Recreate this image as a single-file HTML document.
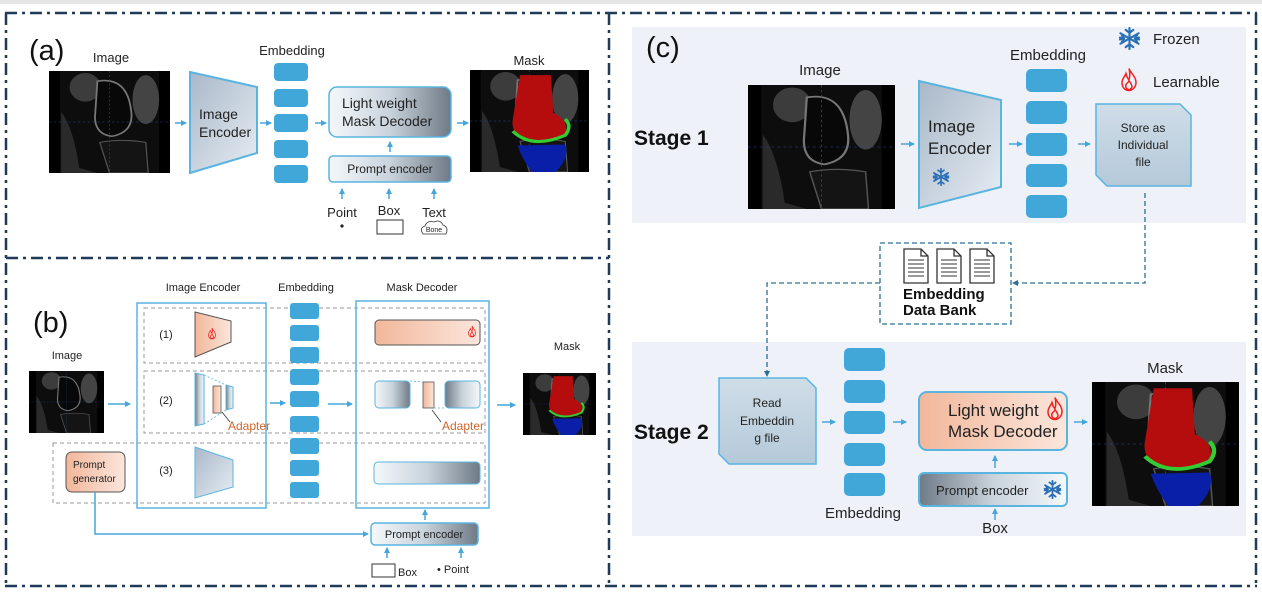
<!DOCTYPE html>
<html><head><meta charset="utf-8"><style>
html,body{margin:0;padding:0;background:#fff;}
svg{display:block;font-family:"Liberation Sans",sans-serif;}
</style></head><body>
<svg width="1262" height="596" viewBox="0 0 1262 596" xmlns="http://www.w3.org/2000/svg">
<defs>
<linearGradient id="gDec" x1="0" x2="1" y1="0" y2="0"><stop offset="0" stop-color="#f4f8fb"/><stop offset="0.5" stop-color="#c9d3dc"/><stop offset="1" stop-color="#6e7a86"/></linearGradient>
<linearGradient id="gDecR" x1="0" x2="1" y1="0" y2="0"><stop offset="0" stop-color="#6e7a86"/><stop offset="0.5" stop-color="#c9d3dc"/><stop offset="1" stop-color="#f4f8fb"/></linearGradient>
<linearGradient id="gEnc" x1="0" x2="1" y1="0" y2="1"><stop offset="0" stop-color="#a9b8c8"/><stop offset="1" stop-color="#e6edf4"/></linearGradient>
<linearGradient id="gOr" x1="0" x2="1" y1="0" y2="0"><stop offset="0" stop-color="#f2b79a"/><stop offset="1" stop-color="#fbe6dc"/></linearGradient>
<linearGradient id="gFile" x1="0" x2="0" y1="0" y2="1"><stop offset="0" stop-color="#cfdde8"/><stop offset="1" stop-color="#b5c9d9"/></linearGradient>
<marker id="ar" markerWidth="6" markerHeight="6" refX="5" refY="3" orient="auto" markerUnits="userSpaceOnUse"><path d="M0,0 L6,3 L0,6 Z" fill="#45a6dc"/></marker>
<marker id="ard" markerWidth="6" markerHeight="6" refX="5" refY="3" orient="auto" markerUnits="userSpaceOnUse"><path d="M0,0 L6,3 L0,6 Z" fill="#2e6f96"/></marker>
<symbol id="knee" viewBox="0 0 100 100" preserveAspectRatio="none">
<rect width="100" height="100" fill="#000"/>
<rect x="9" width="82" height="100" fill="#0d0d0d"/>
<ellipse cx="30" cy="16" rx="13" ry="14" fill="#3c3c3c"/>
<ellipse cx="80" cy="28" rx="11" ry="24" fill="#444"/>
<path d="M10,40 Q20,55 25,95 L40,100 L10,100Z" fill="#2a2a2a"/>
<path d="M40,10 Q65,5 68,40 Q70,60 52,64 Q38,62 38,45Z" fill="#080808" stroke="#777" stroke-width="1.5"/>
<path d="M42,70 Q60,66 80,70 L82,100 L50,100Z" fill="#141414" stroke="#555" stroke-width="1"/>
<line x1="50" y1="0" x2="50" y2="100" stroke="#3344aa" stroke-width="0.5" stroke-dasharray="2 2"/>
<line x1="0" y1="50" x2="100" y2="50" stroke="#3344aa" stroke-width="0.5" stroke-dasharray="2 2"/>
</symbol>
<symbol id="mask" viewBox="0 0 100 100" preserveAspectRatio="none">
<use href="#knee" width="100" height="100"/>
<path d="M42,5 L68,5 L70,42 Q84,50 80,62 Q66,74 46,68 Q34,62 36,48Z" fill="#b50d0d"/>
<path d="M36,60 Q52,78 80,64 Q86,55 80,48" fill="none" stroke="#33cc33" stroke-width="3"/>
<path d="M40,74 L80,73 Q84,86 72,100 L52,100 Q44,88 40,74Z" fill="#0a1fa8"/>
</symbol>
<symbol id="flame" viewBox="0 0 20 24"><path d="M10,1 C12,6 17,9 17,15 C17,20 13,23 10,23 C6,23 3,20 3,15 C3,11 6,9 7,6 C8,9 8,11 10,12 C11,9 11,5 10,1Z M10,22 C8,22 6,20 7,17 C8,15 10,15 10,13 C12,16 13,18 13,19 C13,21 11,22 10,22Z" fill="none" stroke="#e22" stroke-width="1.5"/></symbol>
<symbol id="snow" viewBox="0 0 24 24"><g stroke="#2a6fb5" stroke-width="2.2" fill="none" stroke-linecap="round"><line x1="12" y1="1" x2="12" y2="23"/><line x1="2.5" y1="6.5" x2="21.5" y2="17.5"/><line x1="2.5" y1="17.5" x2="21.5" y2="6.5"/><path d="M8,3 L12,6 L16,3 M8,21 L12,18 L16,21 M2,11 L6,12 L4,8 M22,13 L18,12 L20,16 M2,13 L6,12 L4,16 M22,11 L18,12 L20,8"/></g></symbol>
<symbol id="doc" viewBox="0 0 26 36"><path d="M1,1 L18,1 L25,8 L25,35 L1,35Z M18,1 L18,8 L25,8" fill="#fff" stroke="#333" stroke-width="1.3"/><g stroke="#333" stroke-width="1"><line x1="5" y1="12" x2="21" y2="12"/><line x1="5" y1="16" x2="21" y2="16"/><line x1="5" y1="20" x2="21" y2="20"/><line x1="5" y1="24" x2="21" y2="24"/><line x1="5" y1="28" x2="21" y2="28"/></g></symbol>
</defs>

<rect x="0" y="0" width="1262" height="4" fill="#e6e6e6"/>
<g stroke="#1f3b57" stroke-width="2.5" fill="none" stroke-dasharray="12 5 3 5">
<line x1="5" y1="13" x2="1257" y2="13"/>
<line x1="5" y1="586" x2="1257" y2="586"/>
<line x1="6" y1="13" x2="6" y2="586"/>
<line x1="609" y1="13" x2="609" y2="586"/>
<line x1="1256" y1="13" x2="1256" y2="586"/>
<line x1="6" y1="258" x2="609" y2="258"/>
</g>

<!-- ===== Panel (a) ===== -->
<text x="29" y="60" font-size="29" fill="#111">(a)</text>
<text x="111" y="62" font-size="13" text-anchor="middle" fill="#222">Image</text>
<use href="#knee" x="49" y="71" width="121" height="102"/>
<line x1="175" y1="123" x2="186" y2="123" stroke="#45a6dc" stroke-width="1.5" marker-end="url(#ar)"/>
<path d="M190,72 L257,87 L257,153 L190,173Z" fill="url(#gEnc)" stroke="#5ab4e0" stroke-width="2"/>
<text x="199" y="119" font-size="14" fill="#222">Image</text>
<text x="199" y="137" font-size="14" fill="#222">Encoder</text>
<line x1="260" y1="123" x2="271" y2="123" stroke="#45a6dc" stroke-width="1.5" marker-end="url(#ar)"/>
<text x="292" y="55" font-size="13" text-anchor="middle" fill="#222">Embedding</text>
<g fill="#41a7d8"><rect x="274" y="63" width="34" height="18" rx="4"/><rect x="274" y="89" width="34" height="18" rx="4"/><rect x="274" y="114" width="34" height="18" rx="4"/><rect x="274" y="140" width="34" height="18" rx="4"/><rect x="274" y="165" width="34" height="18" rx="4"/></g>
<line x1="315" y1="123" x2="326" y2="123" stroke="#45a6dc" stroke-width="1.5" marker-end="url(#ar)"/>
<rect x="329" y="87" width="122" height="50" rx="8" fill="url(#gDec)" stroke="#5ab4e0" stroke-width="1.5"/>
<text x="342" y="108" font-size="14" fill="#222">Light weight</text>
<text x="342" y="126" font-size="14" fill="#222">Mask Decoder</text>
<line x1="390" y1="152" x2="390" y2="142" stroke="#45a6dc" stroke-width="1.5" marker-end="url(#ar)"/>
<rect x="329" y="156" width="122" height="26" rx="4" fill="url(#gDec)" stroke="#5ab4e0" stroke-width="1.5"/>
<text x="390" y="173" font-size="12" text-anchor="middle" fill="#222">Prompt encoder</text>
<g stroke="#45a6dc" stroke-width="1.5"><line x1="342" y1="199" x2="342" y2="189" marker-end="url(#ar)"/><line x1="389" y1="199" x2="389" y2="189" marker-end="url(#ar)"/><line x1="434" y1="199" x2="434" y2="189" marker-end="url(#ar)"/></g>
<text x="342" y="217" font-size="13" text-anchor="middle" fill="#222">Point</text>
<text x="389" y="215" font-size="13" text-anchor="middle" fill="#222">Box</text>
<text x="434" y="217" font-size="13" text-anchor="middle" fill="#222">Text</text>
<circle cx="342" cy="226" r="1.6" fill="#222"/>
<rect x="377" y="220" width="26" height="14" fill="#fff" stroke="#333" stroke-width="1"/>
<path d="M423,234 Q419,228 425,226 Q427,220 434,222 Q440,219 443,225 Q449,227 446,234Z" fill="#fff" stroke="#333" stroke-width="0.8"/>
<text x="434" y="232" font-size="7" text-anchor="middle" fill="#222">Bone</text>
<line x1="457" y1="123" x2="468" y2="123" stroke="#45a6dc" stroke-width="1.5" marker-end="url(#ar)"/>
<text x="529" y="65" font-size="13" text-anchor="middle" fill="#222">Mask</text>
<use href="#mask" x="470" y="70" width="119" height="102"/>

<!-- ===== Panel (b) ===== -->
<text x="33" y="332" font-size="29" fill="#111">(b)</text>
<text x="67" y="359" font-size="11" text-anchor="middle" fill="#222">Image</text>
<use href="#knee" x="29" y="371" width="75" height="62"/>
<line x1="108" y1="404" x2="130" y2="404" stroke="#45a6dc" stroke-width="1.5" marker-end="url(#ar)"/>
<text x="203" y="291" font-size="11" text-anchor="middle" fill="#222">Image Encoder</text>
<text x="306" y="291" font-size="11" text-anchor="middle" fill="#222">Embedding</text>
<text x="422" y="291" font-size="11" text-anchor="middle" fill="#222">Mask Decoder</text>
<g fill="none" stroke="#999" stroke-width="1" stroke-dasharray="4 3">
<rect x="144" y="308" width="341" height="55"/>
<rect x="144" y="371" width="341" height="62"/>
<rect x="53" y="443" width="432" height="60"/>
</g>
<rect x="137" y="303" width="129" height="205" fill="none" stroke="#5ab4e0" stroke-width="1.5"/>
<rect x="356" y="301" width="133" height="207" fill="none" stroke="#5ab4e0" stroke-width="1.5"/>
<g fill="#41a7d8"><rect x="290" y="303" width="29" height="16" rx="3"/><rect x="290" y="325" width="29" height="16" rx="3"/><rect x="290" y="347" width="29" height="16" rx="3"/><rect x="290" y="369" width="29" height="16" rx="3"/><rect x="290" y="391" width="29" height="16" rx="3"/><rect x="290" y="416" width="29" height="16" rx="3"/><rect x="290" y="438" width="29" height="16" rx="3"/><rect x="290" y="460" width="29" height="16" rx="3"/><rect x="290" y="482" width="29" height="16" rx="3"/></g>
<text x="166" y="338" font-size="11" text-anchor="middle" fill="#222">(1)</text>
<text x="166" y="404" font-size="11" text-anchor="middle" fill="#222">(2)</text>
<text x="166" y="474" font-size="11" text-anchor="middle" fill="#222">(3)</text>
<path d="M195,312 L231,321 L231,342 L195,357Z" fill="url(#gOr)" stroke="#555" stroke-width="1"/>
<use href="#flame" x="207" y="327" width="10" height="13"/>
<rect x="375" y="320" width="105" height="25" rx="4" fill="url(#gOr)" stroke="#555" stroke-width="1"/>
<use href="#flame" x="467" y="325" width="10" height="13"/>
<path d="M195,373 L204,375 L204,424 L195,426Z" fill="url(#gDecR)" stroke="#5ab4e0" stroke-width="1"/>
<rect x="213" y="386" width="8" height="27" fill="url(#gOr)" stroke="#555" stroke-width="0.8"/>
<path d="M226,385 L233,387 L233,408 L226,410Z" fill="url(#gDecR)" stroke="#5ab4e0" stroke-width="1"/>
<line x1="204" y1="375" x2="226" y2="385" stroke="#5ab4e0" stroke-width="0.8" stroke-dasharray="2 2"/>
<line x1="204" y1="424" x2="226" y2="410" stroke="#5ab4e0" stroke-width="0.8" stroke-dasharray="2 2"/>
<line x1="230" y1="422" x2="222" y2="412" stroke="#333" stroke-width="0.8"/>
<text x="228" y="430" font-size="12" fill="#d0652a">Adapter</text>
<line x1="270" y1="403" x2="285" y2="403" stroke="#45a6dc" stroke-width="1.5" marker-end="url(#ar)"/>
<line x1="328" y1="404" x2="352" y2="404" stroke="#45a6dc" stroke-width="1.5" marker-end="url(#ar)"/>
<rect x="375" y="381" width="35" height="27" rx="4" fill="url(#gDec)" stroke="#5ab4e0" stroke-width="1"/>
<rect x="423" y="382" width="11" height="26" fill="url(#gOr)" stroke="#555" stroke-width="0.8"/>
<rect x="445" y="381" width="35" height="27" rx="4" fill="url(#gDecR)" stroke="#5ab4e0" stroke-width="1"/>
<line x1="410" y1="381" x2="423" y2="382" stroke="#5ab4e0" stroke-width="0.8" stroke-dasharray="2 2"/>
<line x1="434" y1="408" x2="445" y2="408" stroke="#5ab4e0" stroke-width="0.8" stroke-dasharray="2 2"/>
<line x1="441" y1="422" x2="432" y2="410" stroke="#333" stroke-width="0.8"/>
<text x="442" y="430" font-size="12" fill="#d0652a">Adapter</text>
<line x1="497" y1="405" x2="515" y2="405" stroke="#45a6dc" stroke-width="1.5" marker-end="url(#ar)"/>
<path d="M195,447 L233,460 L233,487 L195,498Z" fill="url(#gEnc)" stroke="#5ab4e0" stroke-width="1"/>
<rect x="374" y="462" width="106" height="22" rx="4" fill="url(#gDec)" stroke="#5ab4e0" stroke-width="1"/>
<rect x="66" y="452" width="59" height="40" rx="6" fill="url(#gOr)" stroke="#555" stroke-width="1"/>
<text x="73" y="468" font-size="10" fill="#222">Prompt</text>
<text x="73" y="482" font-size="10" fill="#222">generator</text>
<path d="M95,492 L95,534 L368,534" fill="none" stroke="#45a6dc" stroke-width="1.5" marker-end="url(#ar)"/>
<rect x="371" y="523" width="107" height="22" rx="4" fill="url(#gDec)" stroke="#5ab4e0" stroke-width="1.5"/>
<text x="424" y="538" font-size="11" text-anchor="middle" fill="#222">Prompt encoder</text>
<line x1="425" y1="520" x2="425" y2="510" stroke="#45a6dc" stroke-width="1.5" marker-end="url(#ar)"/>
<g stroke="#45a6dc" stroke-width="1.5"><line x1="387" y1="558" x2="387" y2="548" marker-end="url(#ar)"/><line x1="461" y1="558" x2="461" y2="548" marker-end="url(#ar)"/></g>
<rect x="372" y="564" width="23" height="13" fill="#fff" stroke="#333" stroke-width="1"/>
<text x="398" y="576" font-size="11" fill="#222">Box</text>
<text x="437" y="573" font-size="11" fill="#222">• Point</text>
<text x="567" y="350" font-size="11" text-anchor="middle" fill="#222">Mask</text>
<use href="#mask" x="523" y="373" width="73" height="62"/>

<!-- ===== Panel (c) ===== -->
<rect x="632" y="27" width="614" height="196" fill="#eef2f8"/>
<rect x="632" y="342" width="614" height="194" fill="#eef2f8"/>
<text x="646" y="57" font-size="29" fill="#111">(c)</text>
<use href="#snow" x="1118" y="27" width="23" height="23"/>
<text x="1153" y="44" font-size="15" fill="#222">Frozen</text>
<use href="#flame" x="1119" y="67" width="20" height="25"/>
<text x="1153" y="87" font-size="15" fill="#222">Learnable</text>
<text x="634" y="145" font-size="21" font-weight="bold" fill="#111">Stage 1</text>
<text x="820" y="75" font-size="15" text-anchor="middle" fill="#222">Image</text>
<use href="#knee" x="748" y="85" width="147" height="124"/>
<line x1="901" y1="144" x2="914" y2="144" stroke="#45a6dc" stroke-width="1.5" marker-end="url(#ar)"/>
<path d="M919,81 L1001,100 L1001,187 L919,208Z" fill="url(#gEnc)" stroke="#5ab4e0" stroke-width="2"/>
<text x="928" y="132" font-size="17" fill="#222">Image</text>
<text x="928" y="154" font-size="17" fill="#222">Encoder</text>
<use href="#snow" x="932" y="168" width="18" height="18"/>
<line x1="1009" y1="144" x2="1022" y2="144" stroke="#45a6dc" stroke-width="1.5" marker-end="url(#ar)"/>
<text x="1048" y="60" font-size="15" text-anchor="middle" fill="#222">Embedding</text>
<g fill="#41a7d8"><rect x="1026" y="69" width="41" height="23" rx="5"/><rect x="1026" y="101" width="41" height="23" rx="5"/><rect x="1026" y="133" width="41" height="23" rx="5"/><rect x="1026" y="164" width="41" height="23" rx="5"/><rect x="1026" y="195" width="41" height="23" rx="5"/></g>
<line x1="1078" y1="144" x2="1090" y2="144" stroke="#45a6dc" stroke-width="1.5" marker-end="url(#ar)"/>
<path d="M1096,104 L1180,104 L1191,115 L1191,186 L1107,186 L1096,175Z" fill="url(#gFile)" stroke="#5ab4e0" stroke-width="1.5"/>
<text x="1143" y="132" font-size="12" text-anchor="middle" fill="#222">Store as</text>
<text x="1143" y="149" font-size="12" text-anchor="middle" fill="#222">Individual</text>
<text x="1143" y="166" font-size="12" text-anchor="middle" fill="#222">file</text>
<path d="M1145,193 L1145,283 L1013,283" fill="none" stroke="#2e6f96" stroke-width="1.3" stroke-dasharray="5 3" marker-end="url(#ard)"/>
<rect x="880" y="243" width="131" height="81" fill="none" stroke="#2e6f96" stroke-width="1.3" stroke-dasharray="5 3"/>
<use href="#doc" x="903" y="248" width="26" height="36"/>
<use href="#doc" x="936" y="248" width="26" height="36"/>
<use href="#doc" x="969" y="248" width="26" height="36"/>
<text x="903" y="299" font-size="15" font-weight="bold" fill="#111">Embedding</text>
<text x="903" y="315" font-size="15" font-weight="bold" fill="#111">Data Bank</text>
<path d="M880,283 L767,283 L767,376" fill="none" stroke="#2e6f96" stroke-width="1.3" stroke-dasharray="5 3" marker-end="url(#ard)"/>
<text x="634" y="439" font-size="21" font-weight="bold" fill="#111">Stage 2</text>
<path d="M719,378 L806,378 L816,388 L816,464 L729,464 L719,454Z" fill="url(#gFile)" stroke="#5ab4e0" stroke-width="1.5"/>
<text x="767" y="407" font-size="12" text-anchor="middle" fill="#222">Read</text>
<text x="767" y="425" font-size="12" text-anchor="middle" fill="#222">Embeddin</text>
<text x="767" y="442" font-size="12" text-anchor="middle" fill="#222">g file</text>
<line x1="822" y1="422" x2="835" y2="422" stroke="#45a6dc" stroke-width="1.5" marker-end="url(#ar)"/>
<g fill="#41a7d8"><rect x="844" y="348" width="41" height="23" rx="5"/><rect x="844" y="380" width="41" height="23" rx="5"/><rect x="844" y="411" width="41" height="23" rx="5"/><rect x="844" y="443" width="41" height="23" rx="5"/><rect x="844" y="473" width="41" height="23" rx="5"/></g>
<text x="863" y="518" font-size="15" text-anchor="middle" fill="#222">Embedding</text>
<line x1="893" y1="422" x2="906" y2="422" stroke="#45a6dc" stroke-width="1.5" marker-end="url(#ar)"/>
<rect x="919" y="392" width="148" height="58" rx="8" fill="url(#gOr)" stroke="#5ab4e0" stroke-width="2"/>
<text x="948" y="416" font-size="17" fill="#222">Light weight</text>
<text x="948" y="437" font-size="17" fill="#222">Mask Decoder</text>
<use href="#flame" x="1045" y="396" width="20" height="25"/>
<line x1="995" y1="468" x2="995" y2="456" stroke="#45a6dc" stroke-width="1.5" marker-end="url(#ar)"/>
<rect x="919" y="473" width="148" height="33" rx="5" fill="url(#gDecR)" stroke="#5ab4e0" stroke-width="2"/>
<text x="936" y="495" font-size="13" fill="#222">Prompt encoder</text>
<use href="#snow" x="1043" y="480" width="19" height="19"/>
<line x1="995" y1="520" x2="995" y2="509" stroke="#45a6dc" stroke-width="1.5" marker-end="url(#ar)"/>
<text x="995" y="533" font-size="15" text-anchor="middle" fill="#222">Box</text>
<line x1="1074" y1="422" x2="1087" y2="422" stroke="#45a6dc" stroke-width="1.5" marker-end="url(#ar)"/>
<text x="1165" y="373" font-size="15" text-anchor="middle" fill="#222">Mask</text>
<use href="#mask" x="1092" y="382" width="147" height="124"/>
</svg>
</body></html>
